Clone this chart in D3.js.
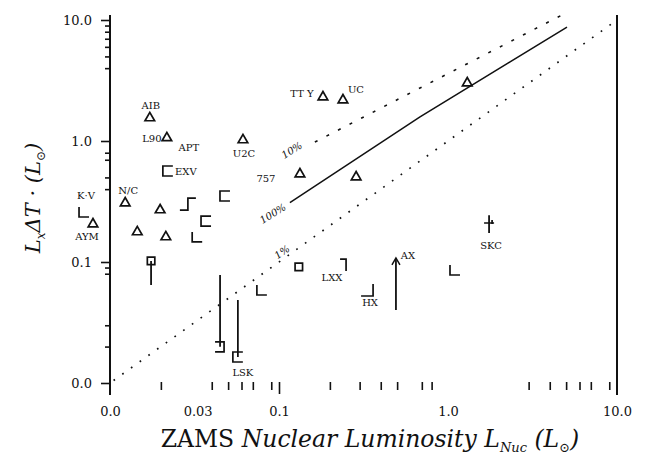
<!DOCTYPE html>
<html>
<head>
<meta charset="utf-8">
<script src="https://cdn.jsdelivr.net/npm/d3@7"></script>
<style>
  html, body { margin: 0; padding: 0; background: #fff; }
  svg { display: block; }
  .tick text { font-family: "DejaVu Serif", serif; font-size: 13px; fill: #111; }
  .lbl { font-family: "DejaVu Serif", serif; font-size: 10px; fill: #111; }
  .title { font-family: "DejaVu Serif", serif; fill: #111; }
</style>
</head>
<body>
<svg id="chart" width="646" height="459"></svg>
<script>
// ---- data: [ZAMS nuclear luminosity (Lsun), Lx*dT (Lsun)] ----
const trianglePts = [
  [0.0172, 1.55], [0.0217, 1.06], [0.0123, 0.307], [0.0198, 0.269],
  [0.0145, 0.177], [0.0214, 0.161], [0.00793, 0.206], [0.0612, 1.02],
  [0.133, 0.533], [0.286, 0.504], [0.239, 2.18], [0.182, 2.31], [1.30, 3.01]
];
const triangleNames = ["AIB", "L90", "N/C", "", "", "", "AYM", "U2C", "757", "", "UC", "TT Y", ""];

const squarePts = [[0.0175, 0.102], [0.131, 0.091]];

const openLeftPts = [[0.0220, 0.565], [0.0479, 0.351], [0.0370, 0.218], [0.0571, 0.0164]];
const openLeftNames = ["EXV", "", "", "LSK"];

const cornerPts = [[0.00702, 0.259], [0.0328, 0.161], [0.0792, 0.0587], [1.10, 0.0859]];
const cornerNames = ["K·V", "", "", ""];

const stepPts = [[0.0289, 0.301]];
const hookPts = [[0.246, 0.0944]];
const hookNames = ["LXX"];
const elbowPts = [[0.332, 0.0587]];
const elbowNames = ["HX"];
const openRightPts = [[0.0448, 0.0199]];
const crossPts = [[1.75, 0.210]];
const crossNames = ["SKC"];

// vertical range bars: [L, Lx top, Lx bottom]
const rangeBars = [
  [0.0175, 0.102, 0.0646],
  [0.0448, 0.0782, 0.0199],
  [0.0571, 0.0485, 0.0164],
  [1.75, 0.244, 0.174]
];
// lower-limit arrow: [L, Lx from, Lx to]
const limitArrows = [[0.492, 0.0401, 0.108]];
const arrowNames = ["AX"];

// reference relations
const solidLine = [[0.116, 0.31], [0.683, 1.58], [5.06, 8.75]];
const dashedLine = [[0.163, 0.98], [4.73, 11.0]];
const dottedLine = [[0.0105, 0.0105], [9.8, 9.8]];
const lineNames = ["10%", "100%", "1%"];

// axis ticks
const yMajorTicks = [0.01, 0.1, 1, 10];
const yMinorTicks = [9, 8, 7, 6, 5, 4, 0.8, 0.7, 0.5, 0.4, 0.09, 0.08, 0.03, 0.02];
const xMinorTicks = [0.02, 0.04, 0.05, 0.06, 0.07, 0.09, 0.2, 0.3, 0.4, 0.5, 0.7, 0.8, 3, 4, 5, 6, 7, 9];
const xMajorTicks = [0.1];
const xLabelTicks = [0.01, 0.033, 0.1, 1, 10];
const xLabelText = ["0.0", "0.03", "0.1", "1.0", "10.0"];

// ---- layout ----
const x = d3.scaleLog().domain([0.01, 10]).range([110, 617]);
const y = d3.scaleLog().domain([0.01, 10]).range([383, 20]);
const svg = d3.select("#chart");
const ink = "#111";

// frame: left and right vertical rules
const [xl, xr] = x.range();
const [yb, yt] = y.range();
[xl, xr].forEach(px => {
  svg.append("line")
    .attr("x1", px).attr("x2", px)
    .attr("y1", yt - 5).attr("y2", yb + 12)
    .attr("stroke", ink).attr("stroke-width", 2);
});

// y axis
svg.append("g").attr("transform", `translate(${xl},0)`)
  .call(d3.axisLeft(y).tickValues(yMajorTicks).tickSize(9).tickPadding(9).tickFormat(d3.format(".1f")))
  .call(g => g.select(".domain").remove())
  .call(g => g.selectAll("line").attr("stroke", ink).attr("stroke-width", 1.6));
svg.append("g").attr("transform", `translate(${xl},0)`)
  .call(d3.axisLeft(y).tickValues(yMinorTicks).tickSize(5).tickFormat(""))
  .call(g => g.select(".domain").remove())
  .call(g => g.selectAll("line").attr("stroke", ink).attr("stroke-width", 1.6));

// x axis: floating tick marks, no base line
svg.append("g").attr("transform", `translate(0,${yb - 1})`)
  .call(d3.axisBottom(x).tickValues(xMinorTicks).tickSize(8).tickFormat(""))
  .call(g => g.select(".domain").remove())
  .call(g => g.selectAll("line").attr("stroke", ink).attr("stroke-width", 1.6));
svg.append("g").attr("transform", `translate(0,${yb - 1})`)
  .call(d3.axisBottom(x).tickValues(xMajorTicks).tickSize(12).tickFormat(""))
  .call(g => g.select(".domain").remove())
  .call(g => g.selectAll("line").attr("stroke", ink).attr("stroke-width", 1.6));
svg.append("g").attr("transform", `translate(0,${yb - 1})`)
  .call(d3.axisBottom(x).tickValues(xLabelTicks).tickSize(0).tickPadding(25)
    .tickFormat((d, i) => xLabelText[i]))
  .call(g => g.select(".domain").remove());

// reference lines
const line = d3.line().x(d => x(d[0])).y(d => y(d[1]));
svg.append("path").datum(solidLine).attr("d", line)
  .attr("fill", "none").attr("stroke", ink).attr("stroke-width", 1.5);
svg.append("path").datum(dashedLine).attr("d", line)
  .attr("fill", "none").attr("stroke", ink).attr("stroke-width", 1.6)
  .attr("stroke-dasharray", "3 10");
svg.append("path").datum(dottedLine).attr("d", line)
  .attr("fill", "none").attr("stroke", ink).attr("stroke-width", 1.7)
  .attr("stroke-dasharray", "1.7 9");

// line annotations, placed at the start of each line
const lineAnchors = [
  { p: dashedLine[0], dx: -23, dy: 8, rot: -32 },
  { p: solidLine[0], dx: -17, dy: 11, rot: -32 },
  { p: [0.1, 0.1], dx: 3, dy: -10, rot: -35 }
];
lineAnchors.forEach((a, i) => {
  const cx = x(a.p[0]) + a.dx, cy = y(a.p[1]) + a.dy;
  svg.append("text").attr("class", "lbl")
    .attr("transform", `translate(${cx},${cy}) rotate(${a.rot})`)
    .attr("text-anchor", "middle").attr("dominant-baseline", "central")
    .attr("font-style", "italic")
    .text(lineNames[i]);
});

// range bars and arrows
svg.selectAll(".bar").data(rangeBars).join("line").attr("class", "bar")
  .attr("x1", d => x(d[0])).attr("x2", d => x(d[0]))
  .attr("y1", d => y(d[1])).attr("y2", d => y(d[2]))
  .attr("stroke", ink).attr("stroke-width", 1.8);
svg.selectAll(".arr").data(limitArrows).join("line").attr("class", "arr")
  .attr("x1", d => x(d[0])).attr("x2", d => x(d[0]))
  .attr("y1", d => y(d[1])).attr("y2", d => y(d[2]))
  .attr("stroke", ink).attr("stroke-width", 1.8);
svg.selectAll(".arrhead").data(limitArrows).join("path").attr("class", "arrhead")
  .attr("transform", d => `translate(${x(d[0])},${y(d[2])})`)
  .attr("d", "M-4,7L0,0L4,7").attr("fill", "none").attr("stroke", ink).attr("stroke-width", 1.5);

// markers
function markers(data, d, cls) {
  svg.selectAll("." + cls).data(data).join("path").attr("class", cls)
    .attr("transform", p => `translate(${x(p[0])},${y(p[1])})`)
    .attr("d", d)
    .attr("fill", "none").attr("stroke", ink).attr("stroke-width", 1.7);
}
markers(trianglePts, d3.symbol().type(d3.symbolTriangle).size(40)(), "tri");
markers(squarePts, d3.symbol().type(d3.symbolSquare).size(56)(), "sq");
markers(openLeftPts, "M5,-5H-5V5H5", "openl");
markers(cornerPts, "M-5,-5V5H5", "corner");
markers(stepPts, "M-8,6H0V-6H8", "step");
markers(hookPts, "M-5,-6H1V6", "hook");
markers(elbowPts, "M6,-6V6H-6", "elbow");
markers(openRightPts, "M-5,-5H4V5H-5", "openr");
markers(crossPts, "M-5,0H5M3,-3V1", "cross");

// point labels (pixel offsets of the label centre from its marker)
function labels(data, names, offs) {
  data.forEach((p, i) => {
    if (!names[i]) return;
    const o = offs[names[i]] || [0, -12];
    svg.append("text").attr("class", "lbl")
      .attr("x", x(p[0]) + o[0]).attr("y", y(p[1]) + o[1])
      .attr("text-anchor", "middle").attr("dominant-baseline", "central")
      .text(names[i]);
  });
}
const labelOffsets = {
  "AIB": [1, -12], "L90": [-15, 1], "N/C": [3, -13], "AYM": [-6, 12],
  "U2C": [1, 14], "757": [-34, 4], "UC": [13, -11], "TT Y": [-21, -4],
  "EXV": [18, 0], "LSK": [5, 15], "K·V": [2, -16], "LXX": [-13, 12],
  "HX": [3, 13], "SKC": [2, 22], "AX": [12, -2]
};
labels(trianglePts, triangleNames, labelOffsets);
labels(openLeftPts, openLeftNames, labelOffsets);
labels(cornerPts, cornerNames, labelOffsets);
labels(hookPts, hookNames, labelOffsets);
labels(elbowPts, elbowNames, labelOffsets);
labels(crossPts, crossNames, labelOffsets);
labels(limitArrows.map(d => [d[0], d[2]]), arrowNames, labelOffsets);
// a second tag beside the L90 triangle
labels([trianglePts[1]], ["APT"], { "APT": [22, 10] });

// axis titles
const xt = svg.append("text").attr("class", "title")
  .attr("x", 370).attr("y", 447).attr("text-anchor", "middle")
  .attr("font-size", 23.5);
xt.append("tspan").text("ZAMS ");
xt.append("tspan").attr("font-style", "italic").text("Nuclear Luminosity L");
xt.append("tspan").attr("font-style", "italic").attr("font-size", 13).attr("dy", 5).text("Nuc");
xt.append("tspan").attr("font-style", "italic").attr("dy", -5).text(" (L");
xt.append("tspan").attr("font-style", "italic").attr("font-size", 13).attr("dy", 5).text("⊙");
xt.append("tspan").attr("font-style", "italic").attr("dy", -5).text(")");

const yt2 = svg.append("text").attr("class", "title")
  .attr("transform", "translate(40,198) rotate(-90)")
  .attr("text-anchor", "middle").attr("font-size", 21).attr("font-style", "italic");
yt2.append("tspan").text("L");
yt2.append("tspan").attr("font-size", 12).attr("dy", 5).text("x");
yt2.append("tspan").attr("dy", -5).text("ΔT · (L");
yt2.append("tspan").attr("font-size", 12).attr("dy", 5).text("⊙");
yt2.append("tspan").attr("dy", -5).text(")");
</script>
</body>
</html>
